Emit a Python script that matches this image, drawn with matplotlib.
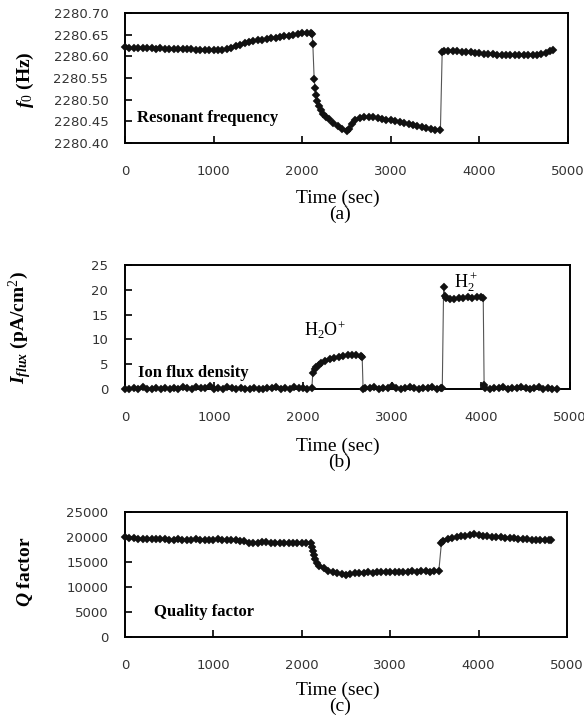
import matplotlib
matplotlib.use("Agg")
import matplotlib.pyplot as plt

plt.rcParams['mathtext.fontset'] = 'custom'
plt.rcParams['mathtext.it'] = 'Liberation Serif:italic:bold'
plt.rcParams['mathtext.rm'] = 'Liberation Serif'
plt.rcParams['mathtext.bf'] = 'Liberation Serif:bold'

# (a) resonant frequency
t_freq = [0, 50, 100, 150, 200, 250, 300, 350, 400, 450,
          500, 550, 600, 650, 700, 750, 800, 850, 900, 950,
          1000, 1050, 1100, 1150, 1200, 1250, 1300, 1350, 1400, 1450,
          1500, 1550, 1600, 1650, 1700, 1750, 1800, 1850, 1900, 1950,
          2000, 2050, 2100, 2110, 2120, 2135, 2145, 2155, 2170, 2190,
          2215, 2240, 2270, 2300, 2350, 2400, 2450, 2500, 2530, 2560,
          2600, 2650, 2700, 2750, 2800, 2850, 2900, 2950, 3000, 3050,
          3100, 3150, 3200, 3250, 3300, 3350, 3400, 3450, 3500, 3560,
          3580, 3600, 3650, 3700, 3750, 3800, 3850, 3900, 3950, 4000,
          4050, 4100, 4150, 4200, 4250, 4300, 4350, 4400, 4450, 4500,
          4550, 4600, 4650, 4700, 4750, 4800, 4830]
f0 = [2280.621, 2280.620, 2280.620, 2280.619, 2280.620, 2280.619, 2280.619, 2280.618, 2280.619, 2280.618,
      2280.618, 2280.617, 2280.617, 2280.616, 2280.617, 2280.616, 2280.615, 2280.615, 2280.614, 2280.614,
      2280.614, 2280.614, 2280.615, 2280.617, 2280.620, 2280.624, 2280.627, 2280.630, 2280.633, 2280.635,
      2280.637, 2280.638, 2280.640, 2280.642, 2280.643, 2280.645, 2280.646, 2280.648, 2280.650, 2280.652,
      2280.653, 2280.654, 2280.654, 2280.652, 2280.628, 2280.548, 2280.527, 2280.510, 2280.497, 2280.486,
      2280.476, 2280.468, 2280.461, 2280.455, 2280.447, 2280.440, 2280.433, 2280.427, 2280.433, 2280.444,
      2280.452, 2280.457, 2280.460, 2280.460, 2280.459, 2280.457, 2280.456, 2280.454, 2280.452, 2280.450,
      2280.448, 2280.446, 2280.444, 2280.442, 2280.440, 2280.437, 2280.435, 2280.433, 2280.431, 2280.430,
      2280.610, 2280.612, 2280.613, 2280.613, 2280.612, 2280.611, 2280.610, 2280.609, 2280.608, 2280.607,
      2280.606, 2280.605, 2280.605, 2280.604, 2280.604, 2280.603, 2280.603, 2280.603, 2280.602, 2280.602,
      2280.602, 2280.602, 2280.603, 2280.605, 2280.608, 2280.612, 2280.614]

# (b) ion flux density
t_flux = [0, 50, 100, 150, 200, 250, 300, 350, 400, 450,
          500, 550, 600, 650, 700, 750, 800, 850, 900, 950,
          1000, 1050, 1100, 1150, 1200, 1250, 1300, 1350, 1400, 1450,
          1500, 1550, 1600, 1650, 1700, 1750, 1800, 1850, 1900, 1950,
          2000, 2050, 2100, 2110, 2130, 2150, 2175, 2200, 2250, 2300,
          2350, 2400, 2450, 2500, 2550, 2600, 2650, 2665, 2675, 2700,
          2750, 2800, 2850, 2900, 2950, 3000, 3050, 3100, 3150, 3200,
          3250, 3300, 3350, 3400, 3450, 3500, 3550, 3565, 3580, 3595,
          3610, 3650, 3700, 3750, 3800, 3850, 3900, 3950, 4000, 4025,
          4035, 4050, 4100, 4150, 4200, 4250, 4300, 4350, 4400, 4450,
          4500, 4550, 4600, 4650, 4700, 4750, 4800, 4850]
i_flux = [0.1, 0.0, 0.2, 0.1, 0.5, 0.1, 0.0, 0.2, 0.1, 0.3,
          0.1, 0.2, 0.0, 0.4, 0.2, 0.1, 0.5, 0.3, 0.2, 0.6,
          0.1, 0.3, 0.0, 0.4, 0.2, 0.1, 0.2, 0.0, 0.1, 0.2,
          0.1, 0.0, 0.2, 0.3, 0.5, 0.1, 0.2, 0.1, 0.4, 0.2,
          0.3, 0.1, 0.2, 3.3, 4.0, 4.5, 4.9, 5.2, 5.7, 6.0,
          6.3, 6.5, 6.6, 6.8, 6.9, 6.8, 6.7, 6.4, 0.1, 0.3,
          0.2, 0.5, 0.1, 0.3, 0.2, 0.6, 0.2, 0.1, 0.3, 0.4,
          0.2, 0.1, 0.3, 0.2, 0.5, 0.1, 0.2, 0.3, 20.5, 18.8,
          18.3, 18.1, 18.2, 18.4, 18.3, 18.5, 18.4, 18.6, 18.5, 18.4,
          0.9, 0.2, 0.1, 0.3, 0.2, 0.4, 0.1, 0.3, 0.2, 0.5,
          0.3, 0.1, 0.2, 0.4, 0.1, 0.2, 0.1, 0.1]

# (c) quality factor
t_q = [0, 50, 100, 150, 200, 250, 300, 350, 400, 450,
       500, 550, 600, 650, 700, 750, 800, 850, 900, 950,
       1000, 1050, 1100, 1150, 1200, 1250, 1300, 1350, 1400, 1450,
       1500, 1550, 1600, 1650, 1700, 1750, 1800, 1850, 1900, 1950,
       2000, 2050, 2100, 2120, 2130, 2140, 2150, 2175, 2200, 2250,
       2300, 2350, 2400, 2450, 2500, 2550, 2600, 2650, 2700, 2750,
       2800, 2850, 2900, 2950, 3000, 3050, 3100, 3150, 3200, 3250,
       3300, 3350, 3400, 3450, 3500, 3550, 3580, 3600, 3650, 3700,
       3750, 3800, 3850, 3900, 3950, 4000, 4050, 4100, 4150, 4200,
       4250, 4300, 4350, 4400, 4450, 4500, 4550, 4600, 4650, 4700,
       4750, 4800, 4820]
q_factor = [20000, 19900, 19800, 19700, 19700, 19600, 19700, 19600, 19600, 19600,
            19500, 19500, 19600, 19500, 19500, 19500, 19600, 19500, 19500, 19500,
            19500, 19600, 19500, 19500, 19400, 19400, 19300, 19200, 18900, 18800,
            18900, 19100, 19000, 18900, 18900, 18800, 18900, 18800, 18800, 18900,
            18800, 18900, 18900, 18000, 17200, 16400, 15600, 14800, 14300, 13800,
            13300, 13000, 12800, 12600, 12500, 12600, 12800, 12900, 12900, 13000,
            12900, 13000, 13000, 13100, 13000, 13100, 13100, 13000, 13100, 13200,
            13100, 13200, 13200, 13100, 13200, 13200, 18900, 19300, 19700, 19900,
            20100, 20200, 20300, 20400, 20600, 20500, 20300, 20200, 20100, 20100,
            20000, 19900, 19900, 19800, 19700, 19600, 19600, 19500, 19500, 19500,
            19400, 19500, 19500]

W, H = 584, 725
fig = plt.figure(figsize=(W / 100, H / 100), dpi=100)
serif = 'Liberation Serif'


def make_axes(px_left, px_top, px_right, px_bottom):
    ax = fig.add_axes([px_left / W, 1 - px_bottom / H,
                       (px_right - px_left) / W, (px_bottom - px_top) / H])
    for s in ax.spines.values():
        s.set_linewidth(1.4)
    ax.tick_params(direction='in', length=5, width=1.2, labelsize=9.5,
                   labelcolor='#333333')
    ax.tick_params(axis='x', pad=16)
    ax.tick_params(axis='y', pad=12)
    ax.set_xlim(0, 5000)
    ax.set_xticks([0, 1000, 2000, 3000, 4000, 5000])
    return ax


def draw(ax, t, v):
    ax.plot(t, v, color='#555555', lw=0.8, marker='D', ms=3.6,
            mfc='#111111', mec='#111111', mew=0.3, clip_on=False, zorder=3)


def time_label(py, tag):
    fig.text(338 / W, 1 - py / H, 'Time (sec)', family=serif, size=14,
             ha='center', va='center')
    fig.text(340 / W, 1 - (py + 16) / H, tag, family=serif, size=14,
             ha='center', va='center')


# (a)
ax1 = make_axes(125, 13, 568, 143)
draw(ax1, t_freq, f0)
ax1.set_ylim(2280.40, 2280.70)
ax1.set_yticks([2280.40, 2280.45, 2280.50, 2280.55, 2280.60, 2280.65, 2280.70])
ax1.set_yticklabels(['%.2f' % v for v in ax1.get_yticks()])
ax1.text(0.027, 0.19, 'Resonant frequency', transform=ax1.transAxes,
         family=serif, weight='bold', size=12, va='center')
fig.text(25 / W, 1 - 80 / H, r'$f_0$ (Hz)', family=serif, weight='bold',
         size=14, rotation=90, ha='center', va='center')
time_label(198, '(a)')

# (b)
ax2 = make_axes(125, 265, 570, 389)
draw(ax2, t_flux, i_flux)
ax2.set_ylim(0, 25)
ax2.set_yticks([0, 5, 10, 15, 20, 25])
ax2.text(0.03, 0.13, 'Ion flux density', transform=ax2.transAxes,
         family=serif, weight='bold', size=12, va='center')
ax2.text(2240, 11.9, r'H$_2$O$^{+}$', family=serif, size=13,
         ha='center', va='center')
ax2.text(3830, 21.6, r'H$_2^+$', family=serif, size=13,
         ha='center', va='center')
fig.text(20 / W, 1 - 328 / H, r'$I_{flux}$ (pA/cm$^2$)', family=serif,
         weight='bold', size=14, rotation=90, ha='center', va='center')
time_label(446, '(b)')

# (c)
ax3 = make_axes(125, 512, 567, 637)
draw(ax3, t_q, q_factor)
ax3.set_ylim(0, 25000)
ax3.set_yticks([0, 5000, 10000, 15000, 20000, 25000])
ax3.text(0.065, 0.2, 'Quality factor', transform=ax3.transAxes,
         family=serif, weight='bold', size=12, va='center')
fig.text(25 / W, 1 - 572 / H, r'$Q$ factor', family=serif, weight='bold',
         size=14, rotation=90, ha='center', va='center')
time_label(690, '(c)')

fig.savefig('out.png', dpi=100)
